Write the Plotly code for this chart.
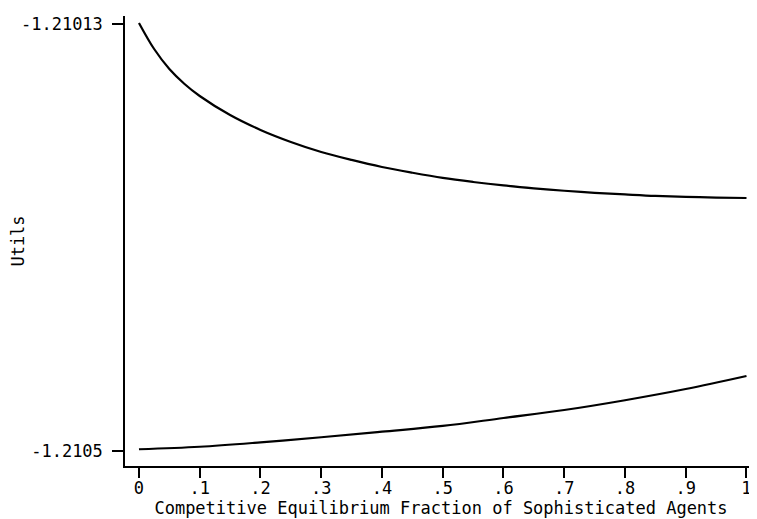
import plotly.graph_objects as go

# Data
x_top = [0, 0.025, 0.05, 0.075, 0.1, 0.15, 0.2, 0.25, 0.3, 0.35, 0.4, 0.45,
         0.5, 0.55, 0.6, 0.65, 0.7, 0.75, 0.8, 0.85, 0.9, 0.95, 1.0]
y_top = [-1.2101291, -1.2101517, -1.2101690, -1.2101820, -1.2101924,
         -1.2102089, -1.2102218, -1.2102322, -1.2102409, -1.2102478,
         -1.2102539, -1.2102589, -1.2102634, -1.2102669, -1.2102699,
         -1.2102724, -1.2102745, -1.2102763, -1.2102777, -1.2102790,
         -1.2102798, -1.2102804, -1.2102808]

x_bottom = [0, 0.1, 0.2, 0.3, 0.4, 0.5, 0.6, 0.7, 0.8, 0.9, 1.0]
y_bottom = [-1.2104985, -1.2104963, -1.2104925, -1.2104881, -1.2104833,
            -1.2104783, -1.2104714, -1.2104645, -1.2104560, -1.2104463,
            -1.2104350]

x_tick_vals = [0, 0.1, 0.2, 0.3, 0.4, 0.5, 0.6, 0.7, 0.8, 0.9, 1]
x_tick_text = ["0", ".1", ".2", ".3", ".4", ".5", ".6", ".7", ".8", ".9", "1"]
y_tick_vals = [-1.2105, -1.21013]
y_tick_text = ["-1.2105", "-1.21013"]

x_title = "Competitive Equilibrium Fraction of Sophisticated Agents"
y_title = "Utils"

FONT = "DejaVu Sans Mono"
FS = 17

fig = go.Figure()
for xs, ys in [(x_top, y_top), (x_bottom, y_bottom)]:
    fig.add_trace(go.Scatter(x=xs, y=ys, mode="lines", line_shape="spline",
                             line=dict(color="black", width=2.2),
                             showlegend=False, hoverinfo="skip"))

# The page body has an 8px default margin, so the figure is sized to fit.
fig.update_layout(
    width=749, height=511,
    margin=dict(l=117, r=0, t=8, b=53, autoexpand=False),
    paper_bgcolor="white", plot_bgcolor="white",
    font=dict(family=FONT, size=FS, color="black"),
    xaxis=dict(
        range=[-0.023, 1.0173],
        automargin=False,
        tickmode="array", tickvals=x_tick_vals, ticktext=x_tick_text,
        ticks="outside", ticklen=10, tickwidth=1.5, tickcolor="black",
        showline=True, linecolor="black", linewidth=1.5,
        showgrid=False, zeroline=False,
        ticklabelstandoff=-4,
        title=dict(text=x_title, standoff=0, font=dict(family=FONT, size=FS)),
        tickfont=dict(family=FONT, size=FS),
    ),
    yaxis=dict(
        range=[-1.2105130, -1.2101231],
        automargin=False,
        tickmode="array", tickvals=y_tick_vals, ticktext=y_tick_text,
        ticks="outside", ticklen=11, tickwidth=1.5, tickcolor="black",
        showline=True, linecolor="black", linewidth=1.5,
        showgrid=False, zeroline=False,
        ticklabelstandoff=6,
        title=dict(text=y_title, standoff=8, font=dict(family=FONT, size=FS)),
        tickfont=dict(family=FONT, size=FS),
    ),
)

fig.write_html("out.html")
